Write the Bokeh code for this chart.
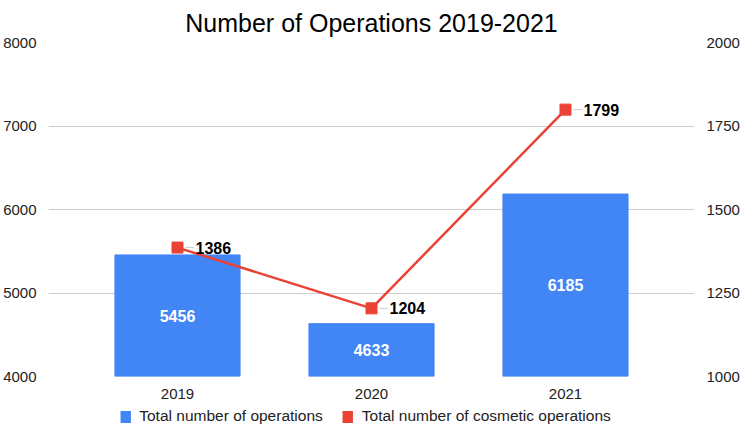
from bokeh.plotting import figure
from bokeh.layouts import column
from bokeh.models import (Range1d, LinearAxis, FixedTicker, ColumnDataSource,
                          LabelSet, Legend, LegendItem)
from bokeh.core.properties import value
from bokeh.embed import file_html
from bokeh.resources import INLINE

years = ["2019", "2020", "2021"]
total_ops = [5456, 4633, 6185]
cosmetic_ops = [1386, 1204, 1799]
series_names = ["Total number of operations", "Total number of cosmetic operations"]

FONT = "Liberation Sans"
BLUE = "#4285F4"
RED = "#EA4335"

xs = list(range(len(years)))
src = ColumnDataSource(dict(
    x=xs,
    total=total_ops,
    mid=[(t + 4000) / 2 for t in total_ops],
    total_txt=[str(t) for t in total_ops],
    cos=cosmetic_ops,
    cos_txt=[str(c) for c in cosmetic_ops],
    lead0=[x + 0.04 for x in xs],
    lead1=[x + 0.085 for x in xs],
))

p = figure(frame_width=646, frame_height=334, output_backend="svg", toolbar_location=None,
           x_range=Range1d(-0.665, 2.665), y_range=Range1d(4000, 8000),
           min_border_left=40, min_border_right=43, min_border_top=42,
           min_border_bottom=30)
p.outline_line_color = None
p.extra_y_ranges = {"right": Range1d(1000, 2000)}

p.title.text = "Number of Operations 2019-2021"
p.title.align = "center"
p.title.text_font = FONT
p.title.text_font_size = "25px"
p.title.text_font_style = "normal"
p.title.text_color = "#000000"
p.title.standoff = 12

p.vbar(x="x", top="total", bottom=4000, width=0.645, color=BLUE, source=src)
p.line(x="x", y="cos", line_color=RED, line_width=2.5, y_range_name="right", source=src)
p.segment(x0="lead0", y0="cos", x1="lead1", y1="cos", line_color="#cccccc",
          line_width=1, y_range_name="right", source=src)
p.scatter(x="x", y="cos", marker="square", size=11, color=RED,
          y_range_name="right", source=src)

p.add_layout(LabelSet(x="x", y="mid", text="total_txt", source=src,
                      text_align="center", text_baseline="middle",
                      text_color="white", text_font=value(FONT), text_font_size="16px",
                      text_font_style="bold"))
p.add_layout(LabelSet(x="x", y="cos", text="cos_txt", source=src,
                      y_range_name="right", x_offset=18,
                      text_align="left", text_baseline="middle",
                      text_color="#000000", text_font=value(FONT), text_font_size="16px",
                      text_font_style="bold"))

# axes
p.xaxis.ticker = FixedTicker(ticks=xs)
p.xaxis.major_label_overrides = {i: y for i, y in zip(xs, years)}
p.yaxis.ticker = FixedTicker(ticks=[4000, 5000, 6000, 7000, 8000])
ry = LinearAxis(y_range_name="right",
                ticker=FixedTicker(ticks=[1000, 1250, 1500, 1750, 2000]))
p.add_layout(ry, "right")

for ax in [p.xaxis[0], p.yaxis[0], ry]:
    ax.axis_line_color = None
    ax.major_tick_line_color = None
    ax.minor_tick_line_color = None
    ax.major_label_text_font = FONT
    ax.major_label_text_font_size = "15px"
    ax.major_label_text_color = "#222222"
    ax.major_label_standoff = 6
p.xaxis.major_label_standoff = 6

p.xgrid.grid_line_color = None
p.ygrid.grid_line_color = "#cccccc"
p.ygrid.grid_line_width = 1

# legend strip below the chart (proxy glyphs have zero area, so only the
# legend swatches are visible)
leg = figure(width=729, height=20, output_backend="svg", toolbar_location=None,
             x_range=Range1d(0, 1), y_range=Range1d(0, 1), min_border=0)
leg.axis.visible = False
leg.grid.visible = False
leg.outline_line_color = None
lb = leg.vbar(x="x", top="total", bottom="total", width=0, fill_color=BLUE,
              line_color=None, source=src)
lr = leg.vbar(x="x", top="cos", bottom="cos", width=0, fill_color=RED,
              line_color=None, source=src)

legend = Legend(items=[
    LegendItem(label=series_names[0], renderers=[lb]),
    LegendItem(label=series_names[1], renderers=[lr]),
], orientation="horizontal", location="center")
legend.label_text_font = FONT
legend.label_text_font_size = "15.5px"
legend.label_text_color = "#222222"
legend.border_line_color = None
legend.background_fill_alpha = 0
legend.glyph_width = 13
legend.glyph_height = 15
legend.label_standoff = 8
legend.spacing = 18
legend.padding = 0
legend.margin = 0
leg.add_layout(legend, "center")

open("out.html", "w").write(file_html(column(p, leg, spacing=0), INLINE))
